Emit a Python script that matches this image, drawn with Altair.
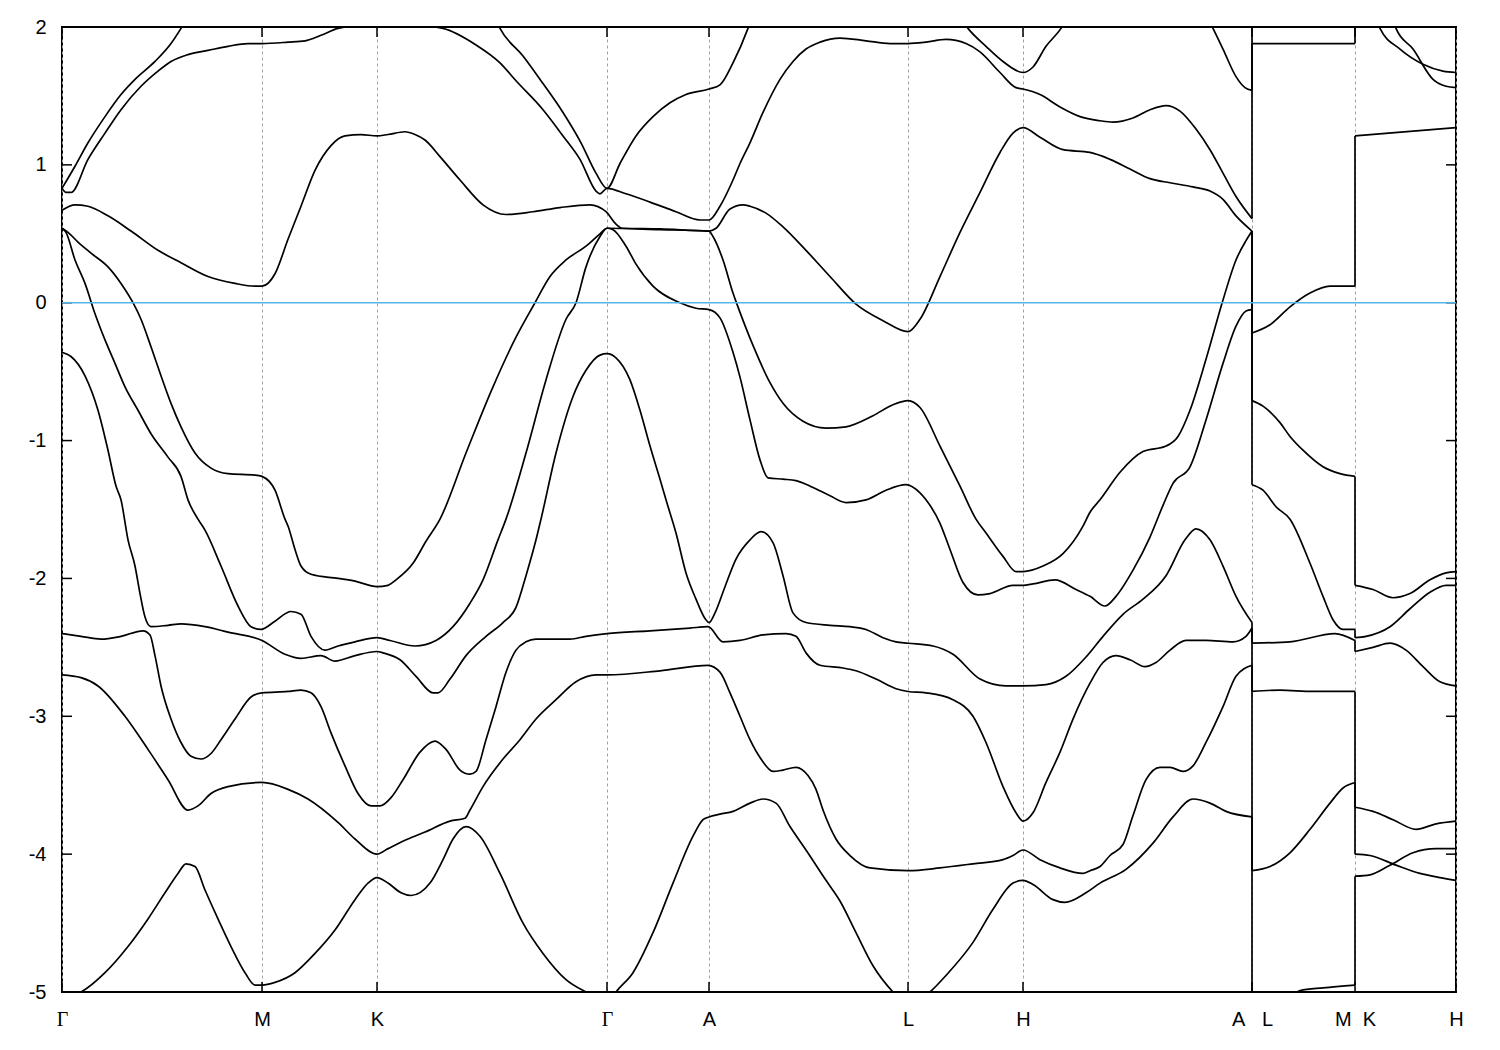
import altair as alt
import pandas as pd

# ---------------- axis ticks / labels ----------------
K_TICKS = [0, 200, 315, 545, 647, 846, 961, 1190, 1293, 1394]
K_LABELS = ["Γ", "M", "K", "Γ", "A", "L", "H", "A\u00a0\u00a0\u00a0L", "M\u00a0\u00a0K", "H"]
E_TICKS = [-5, -4, -3, -2, -1, 0, 1, 2]
FERMI = [0.0]

# ---------------- bands, path Γ-M-K-Γ-A-L-H-A (k, E in eV) ----------------
BAND_01 = [(0, 0.83), (13, 0.99), (26, 1.16), (43, 1.35), (59, 1.51), (73, 1.62), (93, 1.75),
           (109, 1.88), (119, 1.99), (124, 2.05)]
BAND_02 = [(0, 0.83), (4, 0.80), (9, 0.80), (26, 1.04), (43, 1.23), (59, 1.40), (79, 1.57), (96, 1.68),
           (109, 1.75), (126, 1.80), (146, 1.83), (166, 1.86), (186, 1.88), (200, 1.88), (226, 1.89),
           (243, 1.90), (259, 1.94), (276, 1.99), (298, 2.01), (318, 2.01), (338, 2.00), (358, 2.01),
           (381, 1.99), (414, 1.87), (438, 1.74), (454, 1.61), (481, 1.40), (501, 1.21), (518, 1.04),
           (534, 0.81), (538, 0.79), (545, 0.83), (564, 0.79), (588, 0.73), (614, 0.66), (638, 0.60),
           (647, 0.60), (658, 0.70), (671, 0.89), (678, 1.01), (688, 1.16), (701, 1.38), (718, 1.62),
           (731, 1.75), (744, 1.84), (758, 1.89), (778, 1.92), (804, 1.90), (828, 1.88), (846, 1.88),
           (864, 1.89), (884, 1.91), (904, 1.88), (918, 1.82), (938, 1.67), (954, 1.56), (961, 1.55),
           (978, 1.51), (998, 1.42), (1018, 1.35), (1038, 1.32), (1051, 1.31), (1071, 1.34),
           (1088, 1.40), (1104, 1.43), (1118, 1.39), (1134, 1.26), (1148, 1.11), (1161, 0.94),
           (1174, 0.77), (1190, 0.61)]
BAND_03 = [(434, 2.05), (438, 1.99), (461, 1.79), (481, 1.59), (501, 1.38), (519, 1.16), (534, 0.94),
           (545, 0.83), (558, 1.01), (574, 1.21), (591, 1.35), (608, 1.45), (624, 1.51), (647, 1.55),
           (658, 1.58), (671, 1.74), (686, 1.99), (689, 2.05)]
BAND_04 = [(900, 2.05), (906, 1.99), (924, 1.86), (941, 1.75), (961, 1.67), (971, 1.71), (984, 1.86),
           (999, 1.99), (1004, 2.05)]
BAND_05 = [(1147, 2.05), (1151, 1.99), (1161, 1.84), (1174, 1.64), (1183, 1.56), (1190, 1.54)]
BAND_06 = [(0, 0.67), (13, 0.71), (26, 0.70), (46, 0.63), (69, 0.52), (96, 0.38), (119, 0.29),
           (146, 0.19), (173, 0.14), (193, 0.12), (200, 0.12), (213, 0.21), (226, 0.46), (239, 0.70),
           (253, 0.96), (269, 1.14), (283, 1.21), (299, 1.22), (315, 1.21), (326, 1.22), (343, 1.24),
           (353, 1.22), (363, 1.18), (378, 1.06), (398, 0.89), (421, 0.71), (444, 0.64), (471, 0.66),
           (498, 0.69), (528, 0.71), (544, 0.66), (554, 0.57), (560, 0.54), (598, 0.535), (647, 0.52),
           (654, 0.54), (668, 0.68), (681, 0.71), (688, 0.70), (704, 0.65), (721, 0.55), (744, 0.38),
           (768, 0.19), (794, -0.01), (821, -0.13), (846, -0.21), (858, -0.12), (878, 0.19),
           (898, 0.51), (918, 0.80), (938, 1.09), (951, 1.23), (961, 1.27), (978, 1.20), (1001, 1.11),
           (1028, 1.09), (1048, 1.04), (1068, 0.97), (1088, 0.90), (1108, 0.87), (1131, 0.84),
           (1148, 0.81), (1161, 0.75), (1174, 0.63), (1190, 0.52)]
BAND_07 = [(0, 0.54), (6, 0.51), (16, 0.44), (29, 0.36), (46, 0.26), (59, 0.14), (71, 0.00), (79, -0.12),
           (89, -0.32), (99, -0.53), (109, -0.73), (119, -0.90), (133, -1.09), (149, -1.20),
           (166, -1.24), (193, -1.25), (200, -1.26), (213, -1.36), (223, -1.57), (226, -1.62),
           (233, -1.79), (239, -1.91), (249, -1.97), (276, -2.00), (293, -2.02), (315, -2.06),
           (326, -2.05), (334, -2.01), (351, -1.89), (364, -1.73), (378, -1.57), (404, -1.09),
           (431, -0.61), (454, -0.25), (473, 0.00), (488, 0.19), (504, 0.31), (524, 0.41), (538, 0.50),
           (545, 0.54), (598, 0.53), (647, 0.52), (651, 0.48), (661, 0.31), (671, 0.07), (678, -0.07),
           (691, -0.31), (708, -0.58), (721, -0.73), (741, -0.86), (764, -0.91), (784, -0.90),
           (811, -0.82), (831, -0.74), (846, -0.71), (858, -0.76), (878, -1.04), (898, -1.33),
           (914, -1.57), (924, -1.67), (941, -1.84), (954, -1.95), (961, -1.95), (981, -1.91),
           (1001, -1.82), (1021, -1.62), (1028, -1.52), (1038, -1.43), (1058, -1.23), (1081, -1.08),
           (1104, -1.04), (1116, -0.97), (1128, -0.78), (1144, -0.41), (1161, 0.02), (1174, 0.31),
           (1184, 0.45), (1190, 0.52)]
BAND_08 = [(0, 0.54), (4, 0.51), (13, 0.31), (23, 0.14), (33, -0.08), (43, -0.27), (53, -0.44),
           (63, -0.61), (76, -0.78), (89, -0.95), (106, -1.12), (119, -1.26), (126, -1.43),
           (136, -1.57), (143, -1.65), (159, -1.91), (176, -2.20), (189, -2.35), (199, -2.37),
           (213, -2.31), (229, -2.24), (239, -2.26), (249, -2.42), (263, -2.52), (276, -2.49),
           (293, -2.46), (315, -2.43), (328, -2.45), (353, -2.49), (374, -2.45), (391, -2.35),
           (408, -2.18), (421, -2.01), (436, -1.72), (444, -1.57), (464, -1.09), (484, -0.56),
           (504, -0.12), (514, 0.00), (524, 0.26), (538, 0.48), (545, 0.54), (551, 0.53), (564, 0.41),
           (574, 0.28), (591, 0.12), (618, 0.00), (634, -0.04), (647, -0.05), (658, -0.11),
           (671, -0.36), (678, -0.54), (688, -0.85), (698, -1.14), (706, -1.27), (721, -1.28),
           (734, -1.29), (751, -1.34), (768, -1.40), (784, -1.45), (804, -1.43), (824, -1.36),
           (844, -1.32), (858, -1.38), (864, -1.43), (878, -1.60), (888, -1.79), (901, -2.03),
           (916, -2.12), (928, -2.11), (951, -2.05), (961, -2.05), (971, -2.04), (993, -2.01),
           (1014, -2.08), (1028, -2.13), (1043, -2.20), (1054, -2.13), (1071, -1.94), (1088, -1.70),
           (1101, -1.47), (1111, -1.31), (1128, -1.19), (1144, -0.85), (1161, -0.44), (1174, -0.17),
           (1184, -0.06), (1190, -0.05)]
BAND_09 = [(0, -0.36), (9, -0.39), (23, -0.53), (36, -0.78), (46, -1.07), (54, -1.33), (59, -1.43),
           (66, -1.72), (73, -1.91), (78, -2.11), (83, -2.28), (89, -2.35), (106, -2.34), (119, -2.33),
           (143, -2.35), (166, -2.39), (200, -2.45), (223, -2.55), (239, -2.58), (259, -2.56),
           (273, -2.60), (293, -2.56), (315, -2.53), (321, -2.54), (338, -2.59), (354, -2.71),
           (371, -2.83), (376, -2.83), (388, -2.73), (404, -2.56), (424, -2.42), (441, -2.32),
           (454, -2.21), (464, -1.98), (474, -1.72), (479, -1.57), (494, -1.09), (511, -0.68),
           (524, -0.49), (538, -0.38), (545, -0.37), (554, -0.40), (568, -0.56), (578, -0.78),
           (588, -1.04), (598, -1.28), (604, -1.43), (614, -1.67), (624, -1.96), (634, -2.15),
           (643, -2.29), (647, -2.32), (653, -2.25), (663, -2.06), (674, -1.86), (688, -1.72),
           (699, -1.66), (711, -1.74), (721, -1.98), (731, -2.25), (744, -2.32), (768, -2.34),
           (788, -2.35), (804, -2.37), (821, -2.43), (834, -2.46), (846, -2.47), (871, -2.49),
           (891, -2.55), (918, -2.73), (944, -2.78), (961, -2.78), (984, -2.77), (1004, -2.71),
           (1024, -2.57), (1041, -2.42), (1061, -2.26), (1081, -2.15), (1104, -1.98), (1123, -1.72),
           (1134, -1.64), (1148, -1.72), (1161, -1.91), (1174, -2.13), (1190, -2.32)]
BAND_10 = [(0, -2.40), (19, -2.42), (39, -2.44), (59, -2.42), (81, -2.38), (88, -2.41), (93, -2.56),
           (99, -2.78), (109, -3.02), (119, -3.19), (129, -3.29), (139, -3.31), (149, -3.27),
           (159, -3.17), (173, -3.02), (189, -2.86), (200, -2.83), (226, -2.82), (239, -2.81),
           (249, -2.83), (259, -2.93), (269, -3.12), (283, -3.36), (296, -3.56), (309, -3.65),
           (318, -3.65), (329, -3.59), (341, -3.46), (358, -3.26), (373, -3.18), (384, -3.24),
           (398, -3.39), (408, -3.42), (414, -3.40), (424, -3.17), (434, -2.93), (444, -2.68),
           (454, -2.52), (464, -2.46), (474, -2.44), (508, -2.44), (524, -2.42), (545, -2.40),
           (588, -2.38), (628, -2.36), (646, -2.35), (661, -2.46), (678, -2.45), (701, -2.41),
           (724, -2.40), (734, -2.42), (744, -2.54), (758, -2.63), (781, -2.65), (794, -2.67),
           (814, -2.73), (834, -2.80), (846, -2.82), (864, -2.83), (891, -2.88), (911, -3.00),
           (924, -3.19), (941, -3.51), (954, -3.70), (961, -3.76), (971, -3.70), (984, -3.48),
           (998, -3.26), (1011, -3.02), (1028, -2.76), (1041, -2.61), (1054, -2.56), (1068, -2.59),
           (1083, -2.64), (1094, -2.61), (1108, -2.52), (1124, -2.45), (1144, -2.45), (1171, -2.46),
           (1184, -2.42), (1190, -2.36)]
BAND_11 = [(0, -2.70), (19, -2.72), (36, -2.78), (63, -3.00), (86, -3.24), (106, -3.46), (126, -3.68),
           (136, -3.65), (149, -3.56), (166, -3.51), (200, -3.48), (226, -3.53), (246, -3.60),
           (276, -3.77), (293, -3.89), (315, -4.00), (326, -3.96), (346, -3.89), (363, -3.84),
           (388, -3.76), (403, -3.74), (408, -3.68), (421, -3.51), (441, -3.31), (458, -3.17),
           (474, -3.02), (494, -2.88), (514, -2.75), (534, -2.70), (545, -2.70), (598, -2.67),
           (646, -2.63), (658, -2.68), (668, -2.83), (678, -3.00), (688, -3.17), (699, -3.31),
           (711, -3.40), (721, -3.39), (734, -3.37), (746, -3.43), (754, -3.53), (761, -3.68),
           (774, -3.89), (788, -4.01), (808, -4.10), (846, -4.12), (878, -4.10), (911, -4.07),
           (941, -4.04), (951, -4.01), (961, -3.97), (978, -4.04), (998, -4.10), (1021, -4.14),
           (1028, -4.12), (1038, -4.09), (1048, -4.01), (1061, -3.93), (1071, -3.72), (1084, -3.46),
           (1098, -3.37), (1108, -3.37), (1121, -3.40), (1131, -3.36), (1144, -3.19), (1161, -2.93),
           (1174, -2.71), (1190, -2.63)]
BAND_12 = [(0, -5.04), (8, -5.03), (19, -5.00), (43, -4.86), (66, -4.67), (86, -4.47), (103, -4.28),
           (116, -4.14), (124, -4.07), (133, -4.09), (143, -4.26), (156, -4.47), (169, -4.67),
           (183, -4.86), (193, -4.95), (200, -4.95), (213, -4.93), (233, -4.86), (253, -4.72),
           (273, -4.55), (293, -4.33), (306, -4.21), (315, -4.17), (326, -4.21), (339, -4.28),
           (349, -4.30), (368, -4.21), (381, -4.04), (391, -3.89), (404, -3.80), (418, -3.87),
           (438, -4.14), (461, -4.50), (481, -4.72), (504, -4.91), (524, -5.00), (538, -5.05),
           (545, -5.06), (550, -5.04), (554, -5.00), (571, -4.86), (591, -4.57), (611, -4.21),
           (631, -3.87), (641, -3.75), (647, -3.73), (658, -3.71), (671, -3.69), (688, -3.63),
           (701, -3.60), (714, -3.63), (728, -3.80), (744, -3.97), (764, -4.19), (778, -4.34),
           (794, -4.57), (811, -4.81), (831, -5.00), (843, -5.08), (853, -5.08), (868, -5.00),
           (884, -4.88), (911, -4.64), (931, -4.40), (951, -4.21), (961, -4.19), (971, -4.22),
           (991, -4.33), (1003, -4.35), (1024, -4.28), (1038, -4.21), (1064, -4.11), (1091, -3.92),
           (1111, -3.73), (1131, -3.60), (1148, -3.63), (1164, -3.69), (1190, -3.73)]

# ---------------- path L-M ----------------
LM_01 = [(1190, 1.88), (1293, 1.88)]
LM_02 = [(1190, -0.22), (1208, -0.16), (1228, -0.03), (1248, 0.07), (1268, 0.12), (1293, 0.12)]
LM_03 = [(1190, -0.71), (1201, -0.75), (1218, -0.87), (1228, -0.97), (1241, -1.07), (1261, -1.19),
         (1278, -1.24), (1293, -1.26)]
LM_04 = [(1190, -1.32), (1201, -1.36), (1214, -1.48), (1228, -1.57), (1248, -1.89), (1261, -2.13),
         (1271, -2.30), (1281, -2.37), (1293, -2.37)]
LM_05 = [(1190, -2.47), (1228, -2.46), (1273, -2.40), (1293, -2.45)]
LM_06 = [(1190, -2.82), (1218, -2.81), (1251, -2.82), (1293, -2.82)]
LM_07 = [(1190, -4.12), (1208, -4.09), (1228, -3.99), (1248, -3.82), (1268, -3.63), (1281, -3.52),
         (1293, -3.48)]
LM_08 = [(1228, -5.05), (1238, -4.99), (1261, -4.97), (1293, -4.95)]

# ---------------- path K-H ----------------
KH_01 = [(1315, 2.05), (1318, 1.99), (1338, 1.84), (1361, 1.73), (1381, 1.68), (1394, 1.67)]
KH_02 = [(1331, 2.05), (1334, 1.99), (1351, 1.84), (1371, 1.62), (1384, 1.57), (1394, 1.56)]
KH_03 = [(1293, 1.21), (1394, 1.27)]
KH_04 = [(1293, -2.05), (1311, -2.08), (1331, -2.14), (1348, -2.11), (1368, -2.01), (1384, -1.96),
         (1394, -1.95)]
KH_05 = [(1293, -2.43), (1304, -2.42), (1328, -2.35), (1348, -2.22), (1368, -2.10), (1384, -2.05),
         (1394, -2.05)]
KH_06 = [(1293, -2.53), (1311, -2.50), (1328, -2.47), (1344, -2.52), (1361, -2.64), (1378, -2.75),
         (1394, -2.78)]
KH_07 = [(1293, -3.66), (1311, -3.69), (1331, -3.75), (1354, -3.82), (1374, -3.78), (1394, -3.76)]
KH_08 = [(1293, -4.00), (1308, -4.01), (1334, -4.08), (1358, -4.14), (1378, -4.17), (1394, -4.19)]
KH_09 = [(1293, -4.16), (1308, -4.15), (1328, -4.08), (1351, -3.99), (1374, -3.96), (1394, -3.96)]

# ---------------- discontinuities (band n at A -> L, and M -> K) ----------------
JUMP_AL_K = 1190
JUMP_AL = [(1.54, 2.10), (0.61, 1.88), (0.52, -0.22), (0.52, -0.71), (-0.05, -1.32),
           (-2.32, -2.47), (-2.36, -2.82), (-2.63, -4.12), (-3.73, -5.10)]
JUMP_MK_K = 1293
JUMP_MK = [(1.88, 2.10), (0.12, 1.21), (-1.26, -2.05), (-2.37, -2.43), (-2.45, -2.53),
           (-2.82, -3.66), (-3.48, -4.00), (-4.95, -4.16)]

SERIES = {
    "b01": BAND_01, "b02": BAND_02, "b03": BAND_03, "b04": BAND_04, "b05": BAND_05,
    "b06": BAND_06, "b07": BAND_07, "b08": BAND_08, "b09": BAND_09, "b10": BAND_10,
    "b11": BAND_11, "b12": BAND_12,
    "lm1": LM_01, "lm2": LM_02, "lm3": LM_03, "lm4": LM_04, "lm5": LM_05, "lm6": LM_06,
    "lm7": LM_07, "lm8": LM_08,
    "kh1": KH_01, "kh2": KH_02, "kh3": KH_03, "kh4": KH_04, "kh5": KH_05, "kh6": KH_06,
    "kh7": KH_07, "kh8": KH_08, "kh9": KH_09,
}

rows = []
for name, pts in SERIES.items():
    for i, (k, e) in enumerate(pts):
        rows.append({"series": name, "k": k, "e": e, "i": i})
lines_df = pd.DataFrame(rows)

jump_rows = [{"k": JUMP_AL_K, "e": a, "e2": b} for a, b in JUMP_AL] + \
            [{"k": JUMP_MK_K, "e": a, "e2": b} for a, b in JUMP_MK]
jumps_df = pd.DataFrame(jump_rows)

W, H = 1394, 965
xscale = alt.Scale(domain=[0, 1394], nice=False, zero=False)
yscale = alt.Scale(domain=[-5, 2], nice=False, zero=False)

label_expr = ""
for k, lab in zip(K_TICKS, K_LABELS):
    label_expr += f"datum.value == {k} ? '{lab}' : "
label_expr += "''"

gamma_test = " || ".join(f"datum.value == {k}" for k, lab in zip(K_TICKS, K_LABELS) if lab == "Γ")

x_axis = alt.Axis(
    values=K_TICKS, labelExpr=label_expr, title=None, grid=True, gridDash=[3, 3],
    gridColor="#a0a0a0", gridWidth=1, ticks=False, domain=False,
    labelFontSize=20, labelPadding=17, labelFlush=False, labelOverlap=False, labelBound=False,
    labelColor="black",
    labelFont={"condition": {"test": gamma_test, "value": "Liberation Serif"},
               "value": "Liberation Sans"},
)
y_axis = alt.Axis(
    values=E_TICKS, labelExpr="'' + datum.value", title=None, grid=False, ticks=False,
    domain=False, labelFont="Liberation Sans", labelFontSize=20, labelPadding=16,
    labelColor="black", labelFlush=False, labelOverlap=False,
)

X = alt.X("k:Q", scale=xscale, axis=x_axis)
Y = alt.Y("e:Q", scale=yscale, axis=y_axis)

bands = alt.Chart(lines_df).mark_line(
    interpolate="monotone", clip=True, color="black", strokeWidth=1.7
).encode(x=X, y=Y, detail="series:N", order="i:Q")

jumps = alt.Chart(jumps_df).mark_rule(clip=True, color="black", strokeWidth=1.7).encode(
    x=X, y=Y, y2="e2:Q")

ytick_df = pd.DataFrame({"e": E_TICKS})
ytick_l = alt.Chart(ytick_df).mark_rule(color="black", strokeWidth=1.5).encode(
    y=Y, x=alt.value(0), x2=alt.value(10))
ytick_r = alt.Chart(ytick_df).mark_rule(color="black", strokeWidth=1.5).encode(
    y=Y, x=alt.value(W - 10), x2=alt.value(W))

xtick_df = pd.DataFrame({"k": K_TICKS})
xtick_b = alt.Chart(xtick_df).mark_rule(color="black", strokeWidth=1.5).encode(
    x=X, y=alt.value(H - 10), y2=alt.value(H))
xtick_t = alt.Chart(xtick_df).mark_rule(color="black", strokeWidth=1.5).encode(
    x=X, y=alt.value(0), y2=alt.value(10))

fermi = alt.Chart(pd.DataFrame({"e": FERMI})).mark_rule(color="#56b4e9", strokeWidth=1.6).encode(
    y=Y)

chart = alt.layer(bands, jumps, ytick_l, ytick_r, xtick_b, xtick_t, fermi).properties(
    width=W, height=H,
    autosize=alt.AutoSizeParams(type="none"),
    padding={"left": 54, "top": 19, "right": 30, "bottom": 50},
    background="white",
).configure_view(stroke="black", strokeWidth=2)

chart.save("out.html", embed_options={"renderer": "svg", "actions": False})
